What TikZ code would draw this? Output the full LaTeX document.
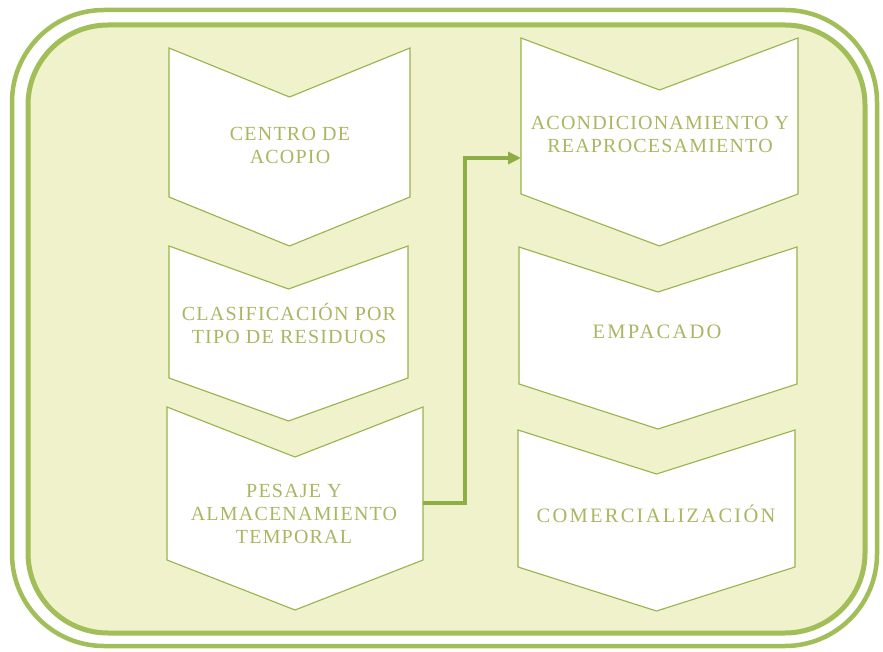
\documentclass[tikz,border=0pt]{standalone}
\usepackage{fontspec}
\setmainfont{Liberation Serif}
\newfontfamily\letras[LetterSpace=6.0]{Liberation Serif}
\newfontfamily\letrasanchas[LetterSpace=11.0]{Liberation Serif}
\usetikzlibrary{arrows.meta}
\definecolor{fondo}{RGB}{239,242,202}
\definecolor{marco}{RGB}{162,190,88}
\definecolor{borde}{RGB}{150,180,75}
\definecolor{letra}{RGB}{172,182,98}
\definecolor{flecha}{RGB}{140,174,68}

% chevron: left x, right x, top y, bottom y of the sides, notch depth
\newcommand{\chevron}[5]{%
\draw[borde, fill=white, line width=1.1] (#1,#3) -- ({(#1+#2)/2},{#3+#5}) -- (#2,#3)
  -- (#2,#4) -- ({(#1+#2)/2},{#4+#5}) -- (#1,#4) -- cycle;}

\begin{document}
\begin{tikzpicture}[x=1pt, y=-1pt,
  etapa/.style={text=letra, align=center, font=\letras\fontsize{20}{23}\selectfont},
  ancha/.style={font=\letrasanchas\fontsize{20.5}{23}\selectfont}]
\useasboundingbox (0,0) rectangle (883,652);
% frame
\draw[marco, fill=white, line width=4.5, rounded corners=92] (12,10) rectangle (877,646);
\draw[marco, fill=fondo, line width=5, rounded corners=80] (28,25) rectangle (865,633);

% left column
\chevron{169}{410}{48}{197}{49}
\chevron{169}{408}{246}{378}{43}
\chevron{167}{423}{407}{560}{50}
% right column
\chevron{521}{798}{38}{194}{52}
\chevron{519}{797}{247}{384}{45}
\chevron{518}{795}{430}{567}{44}

\node[etapa] (centro) at (290,145) {CENTRO DE\\ACOPIO};
\node[etapa] (clasif) at (289,324) {CLASIFICACIÓN POR\\TIPO DE RESIDUOS};
\node[etapa] (pesaje) at (294,514) {PESAJE Y\\ALMACENAMIENTO\\TEMPORAL};
\node[etapa] (acond) at (660,134) {ACONDICIONAMIENTO Y\\REAPROCESAMIENTO};
\node[etapa, ancha] (empac) at (657,332) {EMPACADO};
\node[etapa, ancha] (comerc) at (656,514) {COMERCIALIZACIÓN};

\coordinate (sale) at (423,503);
\coordinate (entra) at (521,158);
\draw[flecha, line width=4, -{Triangle[length=13pt,width=12pt]}] (sale) -- (465,503) |- (entra);
\end{tikzpicture}
\end{document}
